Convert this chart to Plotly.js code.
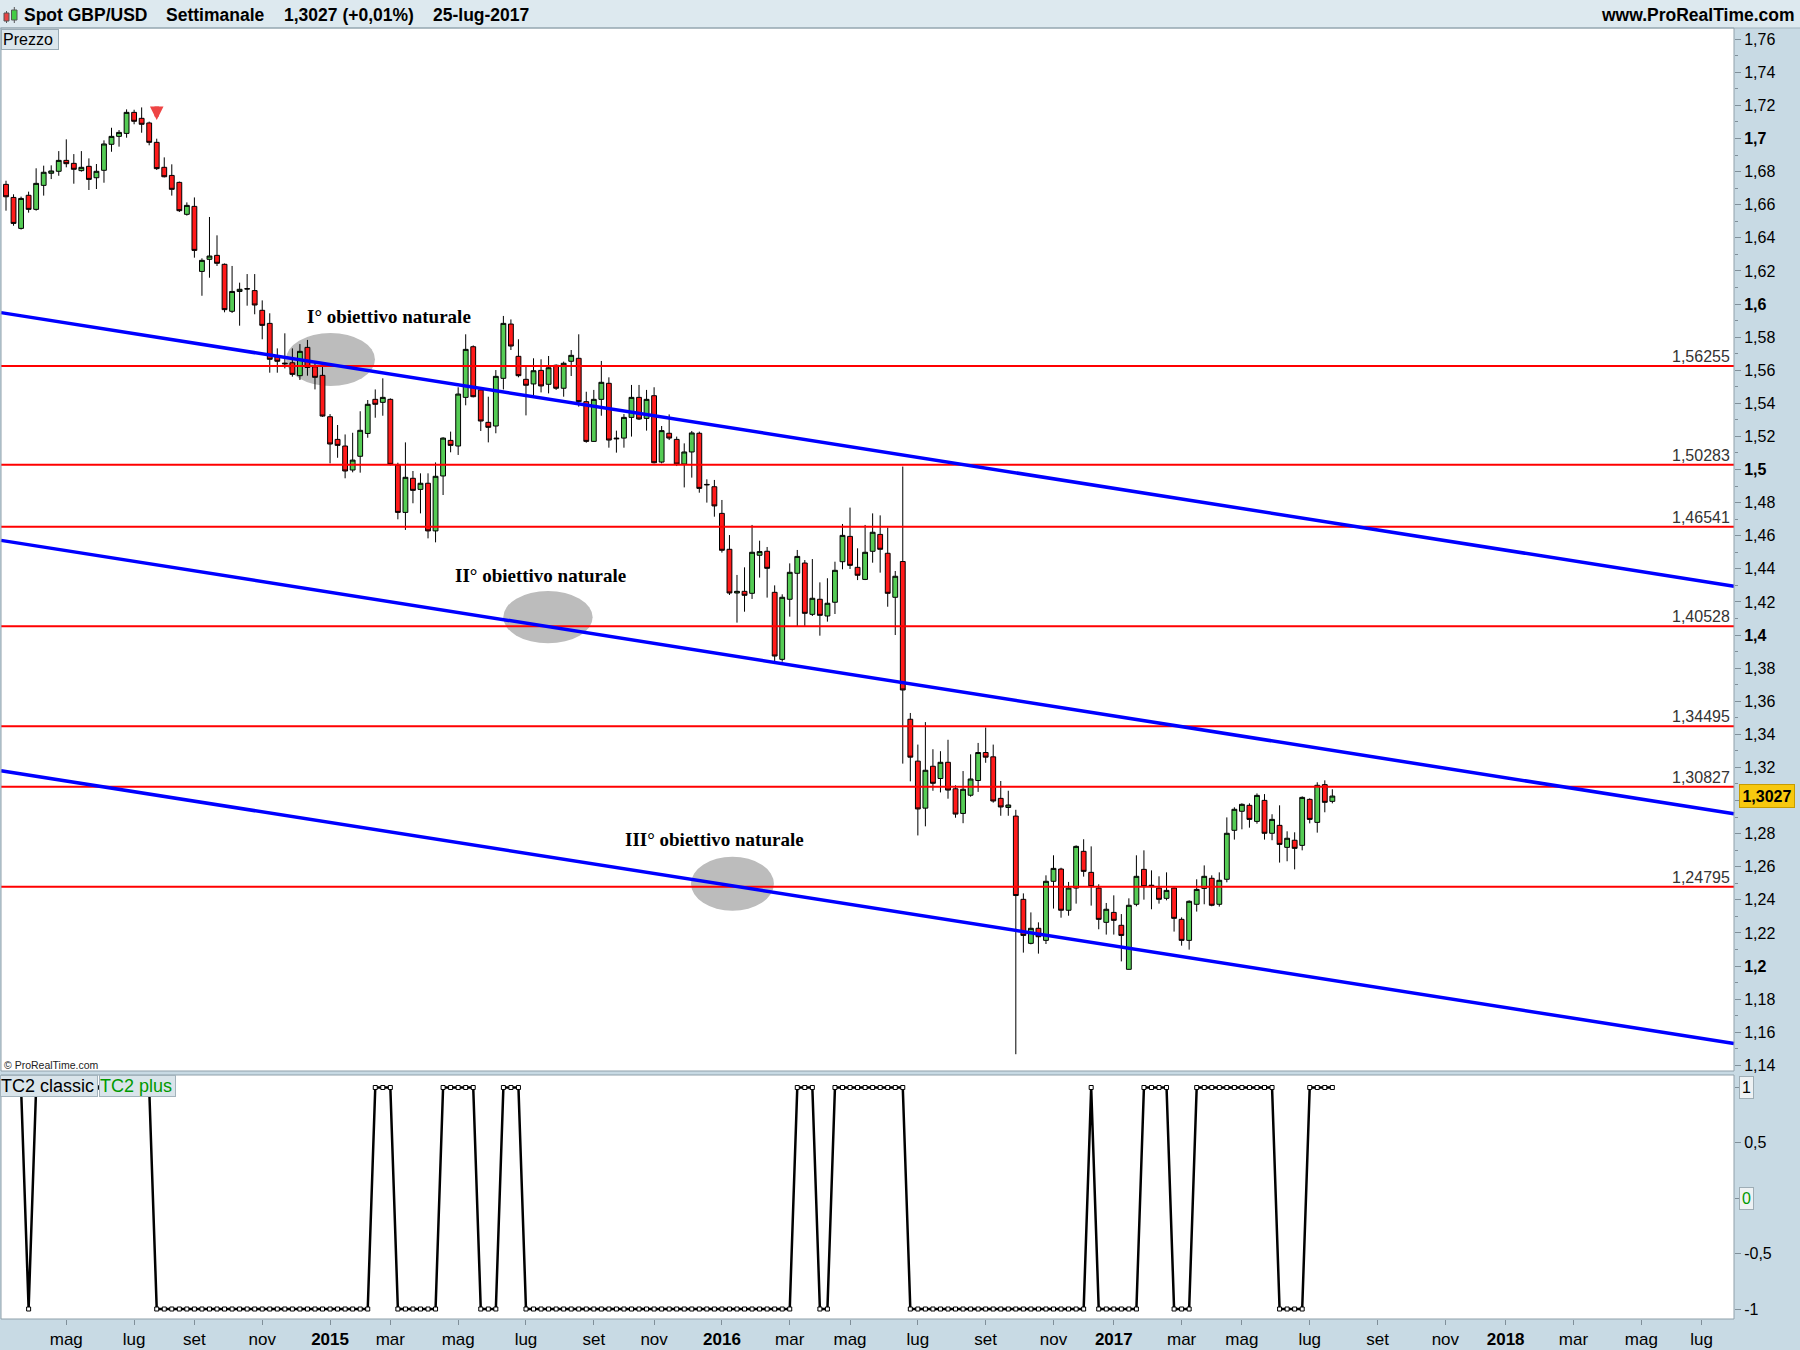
<!DOCTYPE html>
<html>
<head>
<meta charset="utf-8">
<script src="https://cdn.plot.ly/plotly-3.0.1.min.js"></script>
<style>
html,body{margin:0;padding:0;background:#c8dae4;}
#chart{width:1800px;height:1350px;}
</style>
</head>
<body>
<div id="chart"></div>
<script>
// ---------------- DATA ----------------
const firstWeek = '2014-03-10';   // weekly candles, Monday dates

const openP = [
1.6723,1.6644,1.6457,1.6657,1.6572,1.6717,1.6790,1.6802,1.6868,1.6850,
1.6806,1.6832,1.6763,1.6808,1.6965,1.7013,1.7031,1.7158,1.7122,1.7094,
1.6977,1.6826,1.6777,1.6735,1.6542,1.6590,1.6197,1.6270,1.6294,1.6240,
1.5956,1.6076,1.6093,1.6081,1.5962,1.5883,1.5682,1.5643,1.5645,1.5567,
1.5738,1.5621,1.5569,1.5319,1.5182,1.5142,1.4997,1.5080,1.5218,1.5424,
1.5406,1.5424,1.5027,1.4741,1.4947,1.4880,1.4917,1.4629,1.4961,1.5176,
1.5142,1.5436,1.5742,1.5481,1.5285,1.5263,1.5551,1.5879,1.5684,1.5545,
1.5517,1.5599,1.5515,1.5630,1.5491,1.5654,1.5672,1.5410,1.5170,1.5424,
1.5521,1.5190,1.5190,1.5315,1.5436,1.5309,1.5446,1.5045,1.5219,1.5182,
1.5033,1.5106,1.5219,1.4910,1.4896,1.4735,1.4518,1.4254,1.4264,1.4252,
1.4482,1.4506,1.4258,1.3853,1.4216,1.4373,1.4435,1.4125,1.4216,1.4115,
1.4198,1.4443,1.4596,1.4409,1.4336,1.4506,1.4608,1.4494,1.4228,1.4444,
1.3491,1.3238,1.2954,1.3207,1.3133,1.3231,1.3071,1.2922,1.3032,1.3121,
1.3290,1.3264,1.3013,1.2958,1.2906,1.2403,1.2137,1.2228,1.2155,1.2512,
1.2586,1.2337,1.2471,1.2693,1.2566,1.2471,1.2264,1.2324,1.2246,1.1980,
1.2373,1.2584,1.2488,1.2471,1.2409,1.2471,1.2282,1.2155,1.2373,1.2469,
1.2530,1.2373,1.2524,1.2820,1.2935,1.2971,1.2874,1.3001,1.2802,1.2850,
1.2717,1.2760,1.2729,1.3007,1.2868,1.3096,1.2995
];
const highP = [
1.6745,1.6663,1.6649,1.6679,1.6820,1.6836,1.6838,1.6924,1.6995,1.6906,
1.6924,1.6880,1.6846,1.6989,1.7065,1.7051,1.7176,1.7174,1.7188,1.7102,
1.6999,1.6886,1.6844,1.6740,1.6614,1.6644,1.6276,1.6526,1.6415,1.6245,
1.6230,1.6129,1.6181,1.6181,1.6022,1.5944,1.5732,1.5823,1.5732,1.5758,
1.5783,1.5654,1.5621,1.5335,1.5269,1.5212,1.5222,1.5352,1.5420,1.5484,
1.5551,1.5430,1.5041,1.5164,1.4991,1.4977,1.4977,1.5043,1.5195,1.5229,
1.5497,1.5817,1.5750,1.5495,1.5440,1.5601,1.5928,1.5907,1.5787,1.5621,
1.5672,1.5666,1.5686,1.5635,1.5652,1.5722,1.5817,1.5470,1.5481,1.5656,
1.5557,1.5235,1.5335,1.5511,1.5511,1.5481,1.5497,1.5263,1.5333,1.5199,
1.5158,1.5233,1.5229,1.4941,1.4937,1.4816,1.4604,1.4363,1.4409,1.4665,
1.4570,1.4532,1.4300,1.4246,1.4433,1.4514,1.4453,1.4459,1.4318,1.4343,
1.4443,1.4671,1.4770,1.4524,1.4665,1.4735,1.4723,1.4649,1.4387,1.5018,
1.3529,1.3338,1.3474,1.3310,1.3298,1.3367,1.3092,1.3178,1.3279,1.3348,
1.3441,1.3338,1.3118,1.3059,1.2944,1.2439,1.2324,1.2264,1.2548,1.2669,
1.2594,1.2508,1.2729,1.2766,1.2723,1.2494,1.2381,1.2427,1.2314,1.2409,
1.2669,1.2699,1.2578,1.2542,1.2566,1.2475,1.2294,1.2397,1.2524,1.2608,
1.2548,1.2566,1.2898,1.2959,1.2983,1.2983,1.3043,1.3039,1.2917,1.2971,
1.2814,1.2808,1.3025,1.3013,1.3110,1.3122,1.3068
];
const lowP = [
1.6564,1.6473,1.6450,1.6552,1.6564,1.6655,1.6755,1.6775,1.6826,1.6727,
1.6800,1.6689,1.6695,1.6733,1.6920,1.6951,1.7005,1.7086,1.7035,1.6959,
1.6810,1.6765,1.6655,1.6556,1.6534,1.6280,1.6050,1.6159,1.6230,1.5950,
1.5946,1.5869,1.5990,1.5938,1.5787,1.5585,1.5585,1.5611,1.5561,1.5541,
1.5567,1.5484,1.5318,1.5037,1.5071,1.4947,1.4983,1.4981,1.5192,1.5313,
1.5325,1.5025,1.4699,1.4635,1.4796,1.4735,1.4584,1.4560,1.4846,1.5104,
1.5088,1.5388,1.5436,1.5233,1.5164,1.5219,1.5484,1.5722,1.5557,1.5327,
1.5450,1.5466,1.5460,1.5481,1.5440,1.5565,1.5380,1.5162,1.5168,1.5325,
1.5132,1.5102,1.5132,1.5199,1.5299,1.5235,1.5037,1.5037,1.5178,1.5021,
1.4892,1.4951,1.4860,1.4800,1.4715,1.4498,1.4242,1.4075,1.4141,1.4218,
1.4347,1.4226,1.3839,1.3839,1.4111,1.4054,1.4054,1.4115,1.3996,1.4081,
1.4127,1.4397,1.4399,1.4332,1.4332,1.4437,1.4377,1.4171,1.4000,1.3223,
1.3116,1.2789,1.2844,1.3059,1.3049,1.3011,1.2896,1.2863,1.3023,1.3052,
1.3228,1.2987,1.2908,1.2908,1.1467,1.2081,1.2131,1.2075,1.2133,1.2347,
1.2292,1.2304,1.2377,1.2540,1.2365,1.2222,1.2190,1.2190,1.2028,1.1978,
1.2361,1.2401,1.2343,1.2377,1.2397,1.2208,1.2123,1.2099,1.2329,1.2373,
1.2361,1.2359,1.2506,1.2764,1.2826,1.2836,1.2860,1.2764,1.2760,1.2625,
1.2633,1.2584,1.2699,1.2862,1.2806,1.2929,1.2983
];
const closeP = [
1.6648,1.6487,1.6638,1.6572,1.6729,1.6796,1.6804,1.6868,1.6848,1.6814,
1.6826,1.6753,1.6802,1.6967,1.7013,1.7037,1.7158,1.7104,1.7086,1.6977,
1.6818,1.6769,1.6693,1.6564,1.6596,1.6324,1.6264,1.6290,1.6246,1.5966,
1.6076,1.6089,1.6091,1.5994,1.5871,1.5666,1.5654,1.5639,1.5575,1.5714,
1.5617,1.5557,1.5323,1.5154,1.5146,1.4991,1.5057,1.5237,1.5394,1.5394,
1.5436,1.5031,1.4741,1.4953,1.4874,1.4917,1.4629,1.4959,1.5190,1.5146,
1.5456,1.5726,1.5440,1.5293,1.5255,1.5563,1.5883,1.5746,1.5567,1.5509,
1.5597,1.5505,1.5615,1.5491,1.5642,1.5690,1.5410,1.5170,1.5424,1.5527,
1.5178,1.5186,1.5315,1.5436,1.5305,1.5424,1.5041,1.5235,1.5190,1.5033,
1.5106,1.5221,1.4886,1.4908,1.4780,1.4512,1.4254,1.4264,1.4240,1.4500,
1.4504,1.4403,1.3873,1.4228,1.4379,1.4475,1.4131,1.4222,1.4119,1.4192,
1.4391,1.4602,1.4421,1.4361,1.4500,1.4621,1.4518,1.4252,1.4355,1.3668,
1.3262,1.2949,1.3183,1.3104,1.3231,1.3063,1.2918,1.3068,1.3130,1.3290,
1.3262,1.2997,1.2961,1.2973,1.2426,1.2185,1.2228,1.2177,1.2512,1.2590,
1.2337,1.2471,1.2723,1.2572,1.2480,1.2282,1.2343,1.2276,1.2185,1.2367,
1.2542,1.2480,1.2484,1.2403,1.2457,1.2288,1.2155,1.2391,1.2463,1.2542,
1.2367,1.2518,1.2802,1.2947,1.2977,1.2886,1.3031,1.2802,1.2886,1.2735,
1.2772,1.2711,1.3019,1.2886,1.3092,1.2989,1.3027
];
// TC2 classic indicator (+1 / -1), one value per weekly candle
const tc2 = [
 1, 1, 1,-1, 1, 1, 1, 1, 1, 1,
 1, 1, 1, 1, 1, 1, 1, 1, 1, 1,
-1,-1,-1,-1,-1,-1,-1,-1,-1,-1,
-1,-1,-1,-1,-1,-1,-1,-1,-1,-1,
-1,-1,-1,-1,-1,-1,-1,-1,-1, 1,
 1, 1,-1,-1,-1,-1,-1,-1, 1, 1,
 1, 1, 1,-1,-1,-1, 1, 1, 1,-1,
-1,-1,-1,-1,-1,-1,-1,-1,-1,-1,
-1,-1,-1,-1,-1,-1,-1,-1,-1,-1,
-1,-1,-1,-1,-1,-1,-1,-1,-1,-1,
-1,-1,-1,-1,-1, 1, 1, 1,-1,-1,
 1, 1, 1, 1, 1, 1, 1, 1, 1, 1,
-1,-1,-1,-1,-1,-1,-1,-1,-1,-1,
-1,-1,-1,-1,-1,-1,-1,-1,-1,-1,
-1,-1,-1,-1, 1,-1,-1,-1,-1,-1,
-1, 1, 1, 1, 1,-1,-1,-1, 1, 1,
 1, 1, 1, 1, 1, 1, 1, 1, 1,-1,
-1,-1,-1, 1, 1, 1, 1
];
const levels = [1.56255, 1.50283, 1.46541, 1.40528, 1.34495, 1.30827, 1.24795];
const levelLabels = ['1,56255','1,50283','1,46541','1,40528','1,34495','1,30827','1,24795'];
const channelLeft = [1.5948, 1.4572, 1.3180];   // trend channel value at left edge
const channelRight = [1.4295, 1.2920, 1.1532];  // trend channel value at right edge
const targetLabels = ['I° obiettivo naturale','II° obiettivo naturale','III° obiettivo naturale'];
const lastPrice = 1.3027;
const lastPriceLabel = '1,3027';

const yTickVals = [1.14,1.16,1.18,1.20,1.22,1.24,1.26,1.28,1.30,1.32,1.34,1.36,1.38,1.40,1.42,1.44,
                   1.46,1.48,1.50,1.52,1.54,1.56,1.58,1.60,1.62,1.64,1.66,1.68,1.70,1.72,1.74,1.76];
// the 1,3 label sits under the last-price tag in the reference, so it is left blank
const yTickText = ['1,14','1,16','1,18','<b>1,2</b>','1,22','1,24','1,26','1,28','','1,32','1,34','1,36','1,38','<b>1,4</b>','1,42','1,44',
                   '1,46','1,48','<b>1,5</b>','1,52','1,54','1,56','1,58','<b>1,6</b>','1,62','1,64','1,66','1,68','<b>1,7</b>','1,72','1,74','1,76'];
const y2TickVals = [-1,-0.5,0,0.5,1];
const y2TickText = ['-1','-0,5','','0,5',''];
const xTickVals = ['2014-05-05','2014-07-07','2014-09-01','2014-11-03','2015-01-05','2015-03-02','2015-05-04',
  '2015-07-06','2015-09-07','2015-11-02','2016-01-04','2016-03-07','2016-05-02','2016-07-04','2016-09-05',
  '2016-11-07','2017-01-02','2017-03-06','2017-05-01','2017-07-03','2017-09-04','2017-11-06','2018-01-01',
  '2018-03-05','2018-05-07','2018-07-02'];
const xTickText = ['mag','lug','set','nov','<b>2015</b>','mar','mag','lug','set','nov','<b>2016</b>','mar','mag',
  'lug','set','nov','<b>2017</b>','mar','mag','lug','set','nov','<b>2018</b>','mar','mag','lug'];

// ---------------- LAYOUT HELPERS ----------------
const W = 1800, H = 1350, ML = 1, MR = 66;
const px = X => (X - ML) / (W - ML - MR);
const py = Y => (H - Y) / H;
const DAY = 86400000;
const t0 = Date.parse(firstWeek + 'T00:00:00Z');
const iso = ms => new Date(ms).toISOString().replace('T', ' ').slice(0, 19);
const weeks = openP.map((_, i) => iso(t0 + i * 7 * DAY).slice(0, 10));
const PX_PER_DAY = 1.07657;
const xRange = [iso(t0 - 5 / PX_PER_DAY * DAY), iso(t0 + 1728 / PX_PER_DAY * DAY)];

// annotation placement (layout, not data)
const targetPos = [
  {x: '2015-03-01 05:00', y: 1.5925},
  {x: '2015-07-19 12:00', y: 1.4357},
  {x: '2015-12-27 19:00', y: 1.2763}
];
const zones = [
  {x: '2015-01-05 10:00', y: 1.5665, rxDays: 41.3, ry: 0.0160},
  {x: '2015-07-26 10:00', y: 1.4108, rxDays: 41.5, ry: 0.0158},
  {x: '2016-01-13 19:00', y: 1.2497, rxDays: 38.5, ry: 0.0163}
];

// ---------------- TRACES ----------------
const traces = [
  {
    type: 'candlestick', x: weeks, open: openP, high: highP, low: lowP, close: closeP,
    xaxis: 'x', yaxis: 'y',
    increasing: {line: {color: '#000000', width: 1}, fillcolor: '#55cc55'},
    decreasing: {line: {color: '#000000', width: 1}, fillcolor: '#ff1a1a'},
    whiskerwidth: 0, hoverinfo: 'none', showlegend: false
  },
  {
    type: 'scatter', mode: 'lines+markers', x: weeks, y: tc2, xaxis: 'x', yaxis: 'y2',
    line: {color: '#000000', width: 2.5},
    marker: {symbol: 'square', size: 4, color: '#ffffff', line: {color: '#000000', width: 1}},
    hoverinfo: 'none', showlegend: false
  }
];

// ---------------- SHAPES ----------------
const shapes = [];
// header bar
shapes.push({type: 'rect', xref: 'paper', yref: 'paper', x0: px(0), x1: px(W), y0: py(28), y1: 1,
  fillcolor: '#dde9ef', line: {width: 0}, layer: 'below'});
shapes.push({type: 'line', xref: 'paper', yref: 'paper', x0: px(0), x1: px(W), y0: py(28), y1: py(28),
  line: {color: '#9fb1bb', width: 1}});
// header icon candles
shapes.push({type: 'line', xref: 'paper', yref: 'paper', x0: px(6.5), x1: px(6.5), y0: py(23), y1: py(11), line: {color: '#555', width: 1}});
shapes.push({type: 'rect', xref: 'paper', yref: 'paper', x0: px(4), x1: px(9), y0: py(21), y1: py(13), fillcolor: '#e84545', line: {color: '#555', width: 1}});
shapes.push({type: 'line', xref: 'paper', yref: 'paper', x0: px(14.3), x1: px(14.3), y0: py(23), y1: py(7), line: {color: '#555', width: 1}});
shapes.push({type: 'rect', xref: 'paper', yref: 'paper', x0: px(11.5), x1: px(17), y0: py(20), y1: py(10), fillcolor: '#44cc44', line: {color: '#555', width: 1}});
// grey target zones
zones.forEach(z => {
  const c = Date.parse(z.x.replace(' ', 'T') + ':00Z');
  shapes.push({type: 'circle', xref: 'x', yref: 'y',
    x0: iso(c - z.rxDays * DAY), x1: iso(c + z.rxDays * DAY), y0: z.y - z.ry, y1: z.y + z.ry,
    fillcolor: '#bcbcbc', line: {width: 0}, layer: 'below'});
});
// red horizontal levels
levels.forEach(v => shapes.push({type: 'line', xref: 'x domain', yref: 'y', x0: 0, x1: 1, y0: v, y1: v,
  line: {color: '#ff0000', width: 2}}));
// blue channel lines
channelLeft.forEach((v, i) => shapes.push({type: 'line', xref: 'x domain', yref: 'y', x0: 0, x1: 1,
  y0: v, y1: channelRight[i], line: {color: '#0000ff', width: 3.5}}));
// panel borders
shapes.push({type: 'rect', xref: 'x domain', yref: 'y domain', x0: 0, x1: 1, y0: 0, y1: 1,
  line: {color: '#8fa0aa', width: 1}, fillcolor: 'rgba(0,0,0,0)'});
shapes.push({type: 'rect', xref: 'x domain', yref: 'y2 domain', x0: 0, x1: 1, y0: 0, y1: 1,
  line: {color: '#8fa0aa', width: 1}, fillcolor: 'rgba(0,0,0,0)'});

// ---------------- ANNOTATIONS ----------------
const SANS = 'Liberation Sans, Arial, sans-serif';
const annotations = [];
const hdr = (x, txt) => ({xref: 'paper', yref: 'paper', x: px(x), y: py(15), xanchor: 'left', yanchor: 'middle',
  text: '<b>' + txt + '</b>', showarrow: false, font: {family: SANS, size: 17.5, color: '#000'}});
annotations.push(hdr(22, 'Spot GBP/USD'));
annotations.push(hdr(164, 'Settimanale'));
annotations.push(hdr(282, '1,3027 (+0,01%)'));
annotations.push(hdr(431, '25-lug-2017'));
annotations.push({xref: 'paper', yref: 'paper', x: px(1797), y: py(15), xanchor: 'right', yanchor: 'middle',
  text: '<b>www.ProRealTime.com</b>', showarrow: false, font: {family: SANS, size: 17.5, color: '#000'}});
// Prezzo box
annotations.push({xref: 'paper', yref: 'paper', x: px(1), y: py(29), xanchor: 'left', yanchor: 'top',
  text: 'Prezzo', showarrow: false, width: 54, height: 17, align: 'left', borderpad: 1, borderwidth: 1,
  bgcolor: '#dbe6ec', bordercolor: '#9aabb5', font: {family: SANS, size: 16, color: '#000'}});
// copyright
annotations.push({xref: 'paper', yref: 'paper', x: px(2), y: py(1065), xanchor: 'left', yanchor: 'middle',
  text: '© ProRealTime.com', showarrow: false, font: {family: SANS, size: 10.5, color: '#222'}});
// TC2 label boxes
annotations.push({xref: 'paper', yref: 'paper', x: px(0), y: py(1075), xanchor: 'left', yanchor: 'top',
  text: 'TC2 classic', showarrow: false, width: 96, height: 20, align: 'left', borderpad: 0, borderwidth: 1,
  bgcolor: '#d9e4ea', bordercolor: '#a3b3bc', font: {family: SANS, size: 18, color: '#000'}});
annotations.push({xref: 'paper', yref: 'paper', x: px(99), y: py(1075), xanchor: 'left', yanchor: 'top',
  text: 'TC2 plus', showarrow: false, width: 75, height: 20, align: 'left', borderpad: 0, borderwidth: 1,
  bgcolor: '#d9e4ea', bordercolor: '#a3b3bc', font: {family: SANS, size: 18, color: '#009900'}});
// level labels
levels.forEach((v, i) => annotations.push({xref: 'paper', yref: 'y', x: px(1732), y: v, xanchor: 'right',
  yanchor: 'bottom', yshift: -1, text: levelLabels[i], showarrow: false,
  font: {family: SANS, size: 16, color: '#333'}}));
// target labels
targetLabels.forEach((t, i) => annotations.push({xref: 'x', yref: 'y', x: targetPos[i].x, y: targetPos[i].y,
  xanchor: 'center', yanchor: 'middle', text: '<b>' + t + '</b>', showarrow: false,
  font: {family: 'Liberation Serif, Times New Roman, serif', size: 19, color: '#000'}}));
// top arrow
annotations.push({xref: 'x', yref: 'y', x: weeks[20], y: 1.7112, text: '', showarrow: true,
  ax: 0, ay: -15, arrowhead: 2, arrowsize: 0.6, arrowwidth: 4.5, arrowcolor: '#ee4444', standoff: 0});
// last price tag
annotations.push({xref: 'paper', yref: 'y', x: px(1739), y: lastPrice, xanchor: 'left', yanchor: 'middle',
  text: '<b>' + lastPriceLabel + '</b>', showarrow: false, width: 52, height: 20, borderpad: 1, borderwidth: 1,
  bgcolor: '#f7c80f', bordercolor: '#c79c00', font: {family: SANS, size: 16, color: '#000'}});
// indicator boxed labels
annotations.push({xref: 'paper', yref: 'y2', x: px(1739), y: 1, xanchor: 'left', yanchor: 'middle',
  text: '1', showarrow: false, borderpad: 2, borderwidth: 1, bgcolor: '#eef2f4', bordercolor: '#9eadb5',
  font: {family: SANS, size: 16, color: '#000'}});
annotations.push({xref: 'paper', yref: 'y2', x: px(1739), y: 0, xanchor: 'left', yanchor: 'middle',
  text: '0', showarrow: false, borderpad: 2, borderwidth: 1, bgcolor: '#eef2f4', bordercolor: '#9eadb5',
  font: {family: SANS, size: 16, color: '#009900'}});

// ---------------- LAYOUT ----------------
const layout = {
  width: W, height: H,
  margin: {l: ML, r: MR, t: 0, b: 0, pad: 0},
  paper_bgcolor: '#c8dae4', plot_bgcolor: '#ffffff',
  showlegend: false, separators: ',.',
  font: {family: SANS, color: '#000'},
  boxgap: 0.2, boxgroupgap: 0.2,
  xaxis: {type: 'date', range: xRange, anchor: 'y2', tickmode: 'array', tickvals: xTickVals, ticktext: xTickText,
    ticks: 'outside', ticklen: 5, tickcolor: '#7f8f99', tickfont: {family: SANS, size: 17, color: '#000'},
    showgrid: false, zeroline: false, showline: false, rangeslider: {visible: false}, fixedrange: true},
  yaxis: {domain: [py(1071), py(28)], range: [1.13657, 1.76678], side: 'right', anchor: 'x',
    tickmode: 'array', tickvals: yTickVals, ticktext: yTickText, ticks: 'outside', ticklen: 6, tickcolor: '#7f8f99',
    tickfont: {family: SANS, size: 16, color: '#000'}, showgrid: false, zeroline: false, showline: false,
    minor: {tickmode: 'linear', tick0: 1.13, dtick: 0.01, ticks: 'outside', ticklen: 3, tickcolor: '#7f8f99'},
    fixedrange: true},
  yaxis2: {domain: [py(1319), py(1075)], range: [-1.0903, 1.1129], side: 'right', anchor: 'x',
    tickmode: 'array', tickvals: y2TickVals, ticktext: y2TickText, ticks: 'outside', ticklen: 6, tickcolor: '#7f8f99',
    tickfont: {family: SANS, size: 16, color: '#000'}, showgrid: false, zeroline: false, showline: false,
    fixedrange: true},
  shapes: shapes,
  annotations: annotations
};

Plotly.newPlot('chart', traces, layout, {displayModeBar: false, staticPlot: true});
</script>
</body>
</html>
